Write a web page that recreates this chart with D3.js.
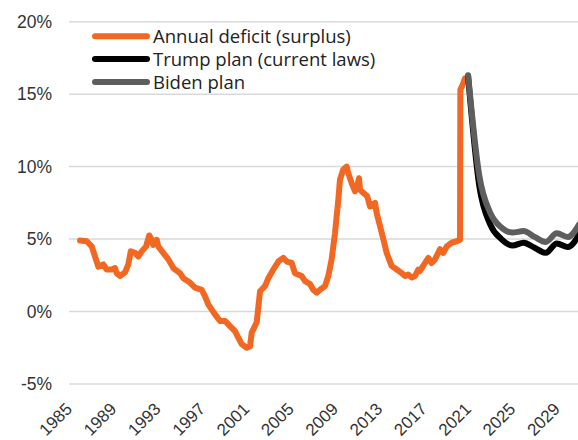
<!DOCTYPE html>
<html>
<head>
<meta charset="utf-8">
<title>Deficit as % of GDP</title>
<script src="https://cdn.jsdelivr.net/npm/d3@7"></script>
<style>
  body { margin: 0; background: #fff; }
  svg { display: block; }
</style>
</head>
<body>
<div id="chart"></div>
<script>
// annual deficit (surplus), % of GDP, rolling
var deficitYears = [1985.0, 1985.6, 1986.05, 1986.35, 1986.64, 1987.09, 1987.4, 1987.85, 1988.15, 1988.3,
  1988.6, 1989.05, 1989.35, 1989.57, 1989.95, 1990.25, 1990.56, 1990.95, 1991.24, 1991.46,
  1991.6, 1991.91, 1992.05, 1992.5, 1992.96, 1993.41, 1994.01, 1994.31, 1994.91, 1995.36,
  1995.97, 1996.27, 1996.56, 1997.17, 1997.62, 1998.07, 1998.52, 1998.97, 1999.27, 1999.58,
  2000.03, 2000.33, 2000.48, 2000.93, 2001.23, 2001.68, 2001.98, 2002.43, 2002.88, 2003.33,
  2003.64, 2004.09, 2004.38, 2004.99, 2005.29, 2005.74, 2006.03, 2006.34, 2006.64, 2007.09,
  2007.39, 2007.69, 2007.99, 2008.29, 2008.44, 2008.74, 2009.05, 2009.19, 2009.5, 2009.8,
  2010.0, 2010.16, 2010.25, 2010.54, 2010.9, 2011.15, 2011.6, 2011.75, 2012.05, 2012.35,
  2012.65, 2013.1, 2013.56, 2014.01, 2014.31, 2014.6, 2014.91, 2015.21, 2015.5, 2015.66,
  2016.11, 2016.41, 2016.71, 2017.01, 2017.46, 2017.76, 2018.07, 2018.52, 2018.97, 2019.27,
  2019.3, 2019.51, 2019.72];
var deficitValues = [4.9, 4.85, 4.5, 3.8, 3.1, 3.25, 2.9, 2.9, 3.0, 2.65,
  2.45, 2.7, 3.25, 4.15, 4.05, 3.8, 4.15, 4.5, 5.25, 4.95,
  4.6, 4.95, 4.5, 4.05, 3.6, 3.0, 2.65, 2.3, 2.0, 1.65,
  1.5, 1.05, 0.5, -0.2, -0.65, -0.65, -1.0, -1.35, -1.8, -2.25,
  -2.5, -2.4, -1.45, -0.75, 1.4, 1.75, 2.3, 2.9, 3.45, 3.7,
  3.45, 3.35, 2.65, 2.45, 2.1, 1.9, 1.5, 1.3, 1.5, 1.75,
  2.45, 3.6, 5.4, 7.7, 9.1, 9.8, 10.0, 9.55, 8.85, 8.3,
  8.65, 9.2, 8.4, 8.2, 7.95, 7.25, 7.5, 6.8, 5.9, 5.0,
  4.05, 3.15, 2.9, 2.65, 2.45, 2.55, 2.35, 2.45, 2.9, 2.8,
  3.35, 3.7, 3.35, 3.6, 4.3, 4.05, 4.5, 4.75, 4.85, 4.95,
  15.3, 15.65, 16.1];

// projections
var projYears = [2020, 2021, 2022, 2023, 2024, 2025, 2026, 2027, 2028, 2029, 2030];
var trumpPlan = [16.2, 8.7, 6.0, 5.0, 4.55, 4.75, 4.4, 4.05, 4.7, 4.45, 5.3];
var bidenPlan = [16.3, 9.4, 6.8, 5.8, 5.45, 5.55, 5.15, 4.8, 5.4, 5.15, 6.0];

var yTicks = [-5, 0, 5, 10, 15, 20];
var xTicks = [1985, 1989, 1993, 1997, 2001, 2005, 2009, 2013, 2017, 2021, 2025, 2029];

var legendNames = ["Annual deficit (surplus)", "Trump plan (current laws)", "Biden plan"];
var colors = ["#F26722", "#000000", "#5E5E5E"];

var width = 578, height = 440;

var svg = d3.select("#chart").append("svg")
    .attr("width", width)
    .attr("height", height);

var x = d3.scaleLinear().domain([1984, 2030]).range([69, 579]);
var y = d3.scaleLinear().domain([-5, 20]).range([384, 21.7]);

// gridlines
svg.append("g")
  .selectAll("line")
  .data(yTicks)
  .enter().append("line")
    .attr("x1", 69)
    .attr("x2", width)
    .attr("y1", function(d) { return y(d); })
    .attr("y2", function(d) { return y(d); })
    .attr("stroke", "#d9d9d9")
    .attr("stroke-width", 1.5);

// y labels
svg.append("g")
  .selectAll("text")
  .data(yTicks)
  .enter().append("text")
    .attr("x", 52)
    .attr("y", function(d) { return y(d); })
    .attr("dy", "0.36em")
    .attr("text-anchor", "end")
    .attr("font-family", "Liberation Sans, Arial, sans-serif")
    .attr("font-size", 17.5)
    .attr("fill", "#333")
    .text(function(d) { return d + "%"; });

// x labels, rotated
svg.append("g")
  .selectAll("text")
  .data(xTicks)
  .enter().append("text")
    .attr("transform", function(d) { return "translate(" + (x(d) - 7) + ",410) rotate(-45)"; })
    .attr("text-anchor", "end")
    .attr("font-family", "Liberation Sans, Arial, sans-serif")
    .attr("font-size", 17)
    .attr("fill", "#333")
    .text(function(d) { return d; });

var deficit = deficitYears.map(function(d, i) { return [d, deficitValues[i]]; });
var trump = projYears.map(function(d, i) { return [d, trumpPlan[i]]; });
var biden = projYears.map(function(d, i) { return [d, bidenPlan[i]]; });

var rough = d3.line()
    .x(function(d) { return x(d[0]); })
    .y(function(d) { return y(d[1]); });
var smooth = d3.line()
    .curve(d3.curveMonotoneX)
    .x(function(d) { return x(d[0]); })
    .y(function(d) { return y(d[1]); });

svg.append("path")
    .attr("d", rough(deficit))
    .attr("fill", "none")
    .attr("stroke", colors[0])
    .attr("stroke-width", 6)
    .attr("stroke-linejoin", "round")
    .attr("stroke-linecap", "round");

svg.append("path")
    .attr("d", smooth(trump))
    .attr("fill", "none")
    .attr("stroke", colors[1])
    .attr("stroke-width", 6)
    .attr("stroke-linejoin", "round")
    .attr("stroke-linecap", "round");

svg.append("path")
    .attr("d", smooth(biden))
    .attr("fill", "none")
    .attr("stroke", colors[2])
    .attr("stroke-width", 6)
    .attr("stroke-linejoin", "round")
    .attr("stroke-linecap", "round");

// legend
var legend = svg.append("g")
  .selectAll("g")
  .data(legendNames)
  .enter().append("g")
    .attr("transform", function(d, i) { return "translate(0," + (36.3 + i * 22.8) + ")"; });

legend.append("line")
    .attr("x1", 95).attr("x2", 147)
    .attr("stroke", function(d, i) { return colors[i]; })
    .attr("stroke-width", 6)
    .attr("stroke-linecap", "round");

legend.append("text")
    .attr("x", 153)
    .attr("dy", "0.36em")
    .attr("font-family", "Open Sans, sans-serif")
    .attr("font-size", 18.5)
    .attr("fill", "#222")
    .text(function(d) { return d; });
</script>
</body>
</html>
